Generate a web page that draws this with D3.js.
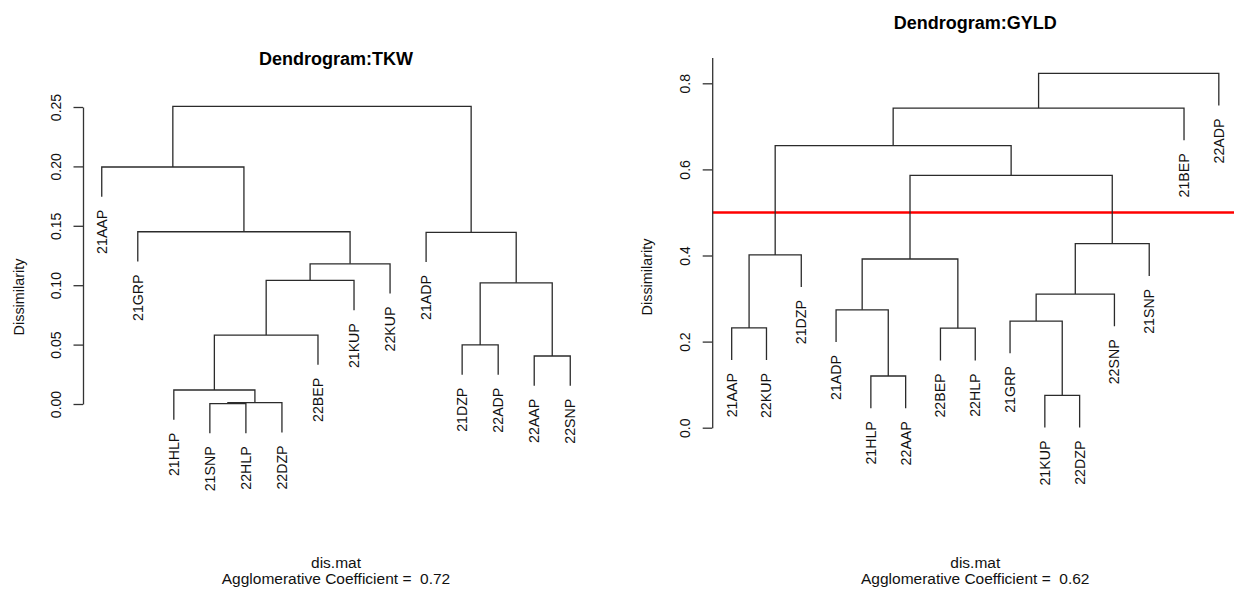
<!DOCTYPE html>
<html>
<head>
<meta charset="utf-8">
<script src="https://cdn.jsdelivr.net/npm/d3@7"></script>
<style>
  body { margin: 0; background: #fff; }
  svg { display: block; font-family: "Liberation Sans", Arial, sans-serif; }
  text { white-space: pre; }
</style>
</head>
<body>
<svg id="chart" width="1234" height="592"></svg>
<script>
// Agglomerative clustering of TKW: each step joins two members.
// Strings are samples, numbers refer to an earlier step (1-based, as in hclust).
const tkwMerges = [
  ["21SNP", "22HLP"], [1, "22DZP"], ["21HLP", 2], ["22AAP", "22SNP"], ["21DZP", "22ADP"],
  [3, "22BEP"], [5, 4], [6, "21KUP"], [8, "22KUP"], ["21ADP", 7], ["21GRP", 9], ["21AAP", 11], [12, 10]
];
const tkwHeights = [0.0003, 0.0011, 0.0118, 0.0404, 0.0497, 0.058, 0.102, 0.104, 0.118, 0.1445, 0.145, 0.1995, 0.2505];
const tkwTicks = [0, 0.05, 0.10, 0.15, 0.20, 0.25];
const tkwCoef = 0.72;

// Agglomerative clustering of GYLD.
const gyldMerges = [
  ["21KUP", "22DZP"], ["21HLP", "22AAP"], ["22BEP", "22HLP"], ["21AAP", "22KUP"], ["21GRP", 1],
  ["21ADP", 2], [5, "22SNP"], [6, 3], [4, "21DZP"], [7, "21SNP"], [8, 10], [9, 11], [12, "21BEP"], [13, "22ADP"]
];
const gyldHeights = [0.075, 0.1201, 0.2311, 0.2318, 0.2476, 0.2739, 0.3103, 0.3919, 0.4014, 0.4274, 0.5863, 0.6553, 0.7424, 0.8232];
const gyldTicks = [0, 0.2, 0.4, 0.6, 0.8];
const gyldCut = 0.5;
const gyldCoef = 0.62;

const svg = d3.select("#chart");

function buildTree(merges, heights) {
  const nodes = merges.map((m, i) => ({
    h: heights[i],
    children: m.map(c => (typeof c === "number" ? null : { name: c }))
  }));
  merges.forEach((m, i) => m.forEach((c, j) => {
    if (typeof c === "number") nodes[i].children[j] = nodes[c - 1];
  }));
  return d3.hierarchy(nodes[nodes.length - 1]);
}

function drawPanel(cfg) {
  const g = svg.append("g");
  const root = buildTree(cfg.merges, cfg.heights);
  const leaves = root.leaves();
  const n = leaves.length;

  // leaves sit at 1..n, with the usual 4% padding on either side
  const x = d3.scaleLinear()
    .domain([1 - 0.04 * (n - 1), n + 0.04 * (n - 1)])
    .range(cfg.xRange);
  const y = d3.scaleLinear().domain(cfg.yDomain).range(cfg.yRange);

  const hang = 0.1 * (d3.max(cfg.heights) - d3.min(cfg.heights));
  leaves.forEach((d, i) => { d.x = x(i + 1); d.end = d.parent.data.h - hang; });
  root.eachAfter(d => {
    if (d.children) {
      d.x = (d.children[0].x + d.children[1].x) / 2;
      d.end = d.data.h;
    }
  });

  // cut line drawn first so the branches stay on top
  if (cfg.cut != null) {
    g.append("line")
      .attr("x1", cfg.xRange[0]).attr("x2", 1234)
      .attr("y1", y(cfg.cut)).attr("y2", y(cfg.cut))
      .attr("stroke", "#ff0000").attr("stroke-width", 2.6);
  }

  // branches: up from the left child, across, down to the right child
  g.append("g")
    .selectAll("path")
    .data(root.descendants().filter(d => d.children))
    .join("path")
    .attr("fill", "none")
    .attr("stroke", "#2b2b2b")
    .attr("stroke-width", 1.3)
    .attr("d", d => {
      const [a, b] = d.children;
      return `M${a.x},${y(a.end)}V${y(d.end)}H${b.x}V${y(b.end)}`;
    });

  // leaf labels, rotated, hanging below each leaf
  g.append("g")
    .selectAll("text")
    .data(leaves)
    .join("text")
    .attr("transform", d => `translate(${d.x},${y(d.end) + 13}) rotate(-90)`)
    .attr("text-anchor", "end")
    .attr("dy", "0.35em")
    .attr("font-size", 14.2)
    .attr("fill", "#111")
    .text(d => d.data.name);

  // vertical axis
  const axis = g.append("g")
    .attr("transform", `translate(${cfg.xRange[0]},0)`)
    .call(d3.axisLeft(y).tickValues(cfg.ticks).tickFormat(d3.format(cfg.fmt))
      .tickSize(9.5).tickSizeOuter(0));
  axis.selectAll(".domain, .tick line").attr("stroke", "#333").attr("stroke-width", 1.3);
  axis.selectAll(".tick text")
    .attr("x", null).attr("dy", "0.35em")
    .attr("transform", "translate(-27,0) rotate(-90)")
    .attr("text-anchor", "middle")
    .attr("font-size", 14)
    .attr("fill", "#111");
  axis.attr("font-family", null);

  g.append("text")
    .attr("transform", `translate(${cfg.ylabX},${cfg.ylabY}) rotate(-90)`)
    .attr("text-anchor", "middle").attr("dy", "0.35em")
    .attr("font-size", 14.4).attr("fill", "#111")
    .text("Dissimilarity");

  const cx = (cfg.xRange[0] + cfg.xRange[1]) / 2;
  g.append("text")
    .attr("x", cx).attr("y", cfg.titleY)
    .attr("text-anchor", "middle")
    .attr("font-weight", "bold").attr("font-size", 18)
    .attr("fill", "#000")
    .text(cfg.title);

  g.append("text")
    .attr("x", cx).attr("y", 568)
    .attr("text-anchor", "middle").attr("font-size", 15.5).attr("fill", "#111")
    .text("dis.mat");
  g.append("text")
    .attr("x", cx).attr("y", 584)
    .attr("text-anchor", "middle").attr("font-size", 15.5).attr("fill", "#111")
    .text("Agglomerative Coefficient =  " + cfg.coef.toFixed(2));
}

drawPanel({
  title: "Dendrogram:TKW",
  merges: tkwMerges, heights: tkwHeights, ticks: tkwTicks, fmt: ".2f", coef: tkwCoef,
  xRange: [83, 589], yDomain: [0, 0.25], yRange: [404, 107],
  titleY: 65, ylabX: 19, ylabY: 297
});

drawPanel({
  title: "Dendrogram:GYLD",
  merges: gyldMerges, heights: gyldHeights, ticks: gyldTicks, fmt: ".1f", coef: gyldCoef,
  cut: gyldCut,
  xRange: [712.2, 1238.3], yDomain: [0, 0.86], yRange: [427.7, 427.7 - 0.86 * 430.5],
  titleY: 29, ylabX: 647, ylabY: 277
});
</script>
</body>
</html>
